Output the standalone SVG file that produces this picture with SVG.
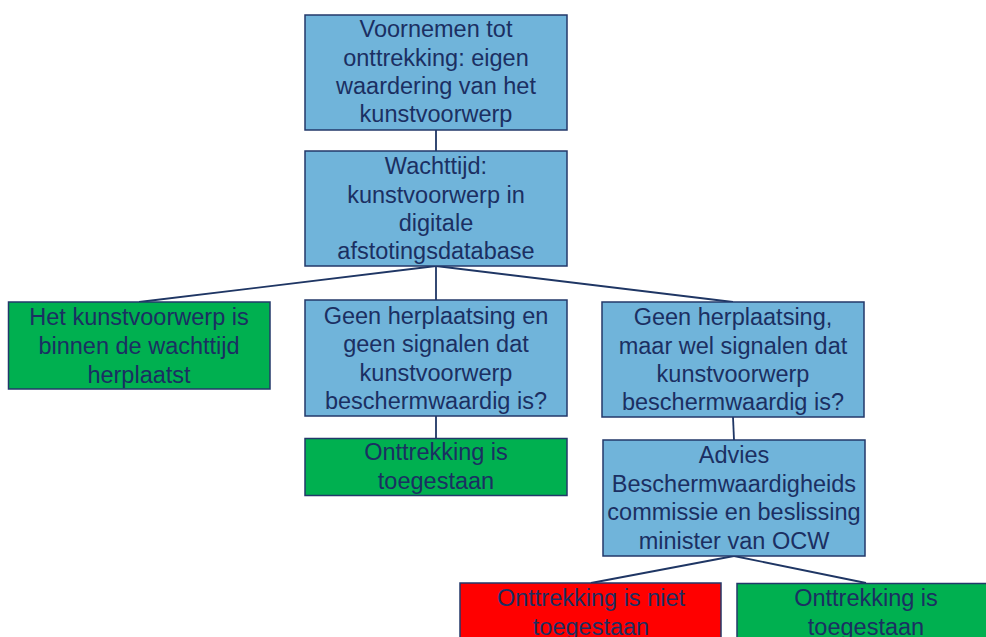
<svg xmlns="http://www.w3.org/2000/svg" width="986" height="637" viewBox="0 0 986 637">
<style>
.box{stroke:#23386A;stroke-width:1.5}
.blue{fill:#70B4DA}
.green{fill:#00B050}
.red{fill:#FF0000}
text{font-family:"Liberation Sans",Arial,sans-serif;font-size:23.5px;fill:#1B2F62;text-anchor:middle}
.conn line{stroke:#1F3664;stroke-width:1.8}
</style>
<rect width="986" height="637" fill="#FFFFFF"/>
<g class="conn">
<line x1="436" y1="130" x2="436" y2="151"/>
<line x1="436" y1="266" x2="139" y2="302"/>
<line x1="436" y1="266" x2="436" y2="300"/>
<line x1="436" y1="266" x2="733" y2="302"/>
<line x1="436" y1="416" x2="436" y2="438.5"/>
<line x1="733" y1="417" x2="734" y2="440"/>
<line x1="734" y1="556" x2="591" y2="583"/>
<line x1="734" y1="556" x2="866" y2="583"/>
</g>
<g id="n1"><rect class="box blue" x="305" y="15" width="262" height="115"/>
<text x="436" y="37">Voornemen tot</text><text x="436" y="65.5">onttrekking: eigen</text><text x="436" y="94">waardering van het</text><text x="436" y="122">kunstvoorwerp</text></g>
<g id="n2"><rect class="box blue" x="305" y="151" width="262" height="115"/>
<text x="436" y="174">Wachttijd:</text><text x="436" y="202.5">kunstvoorwerp in</text><text x="436" y="231">digitale</text><text x="436" y="259">afstotingsdatabase</text></g>
<g id="n3"><rect class="box green" x="8.5" y="302" width="261.5" height="87"/>
<text x="139" y="325">Het kunstvoorwerp is</text><text x="139" y="354">binnen de wachttijd</text><text x="139" y="382.5">herplaatst</text></g>
<g id="n4"><rect class="box blue" x="305" y="300" width="262" height="116"/>
<text x="436" y="323.5">Geen herplaatsing en</text><text x="436" y="352">geen signalen dat</text><text x="436" y="380.5">kunstvoorwerp</text><text x="436" y="409">beschermwaardig is?</text></g>
<g id="n5"><rect class="box green" x="305" y="438.5" width="262" height="57"/>
<text x="436" y="460">Onttrekking is</text><text x="436" y="488.5">toegestaan</text></g>
<g id="n6"><rect class="box blue" x="602" y="302" width="262" height="115"/>
<text x="733" y="325">Geen herplaatsing,</text><text x="733" y="353.5">maar wel signalen dat</text><text x="733" y="382">kunstvoorwerp</text><text x="733" y="410">beschermwaardig is?</text></g>
<g id="n7"><rect class="box blue" x="603" y="440" width="262" height="116"/>
<text x="734" y="462.5">Advies</text><text x="734" y="491.5">Beschermwaardigheids</text><text x="734" y="520">commissie en beslissing</text><text x="734" y="548.5">minister van OCW</text></g>
<g id="n8"><rect class="box red" x="460" y="583" width="261" height="70"/>
<text x="591" y="606">Onttrekking is niet</text><text x="591" y="635">toegestaan</text></g>
<g id="n9"><rect class="box green" x="737" y="583.5" width="259" height="70"/>
<text x="866" y="606">Onttrekking is</text><text x="866" y="635">toegestaan</text></g>
</svg>
